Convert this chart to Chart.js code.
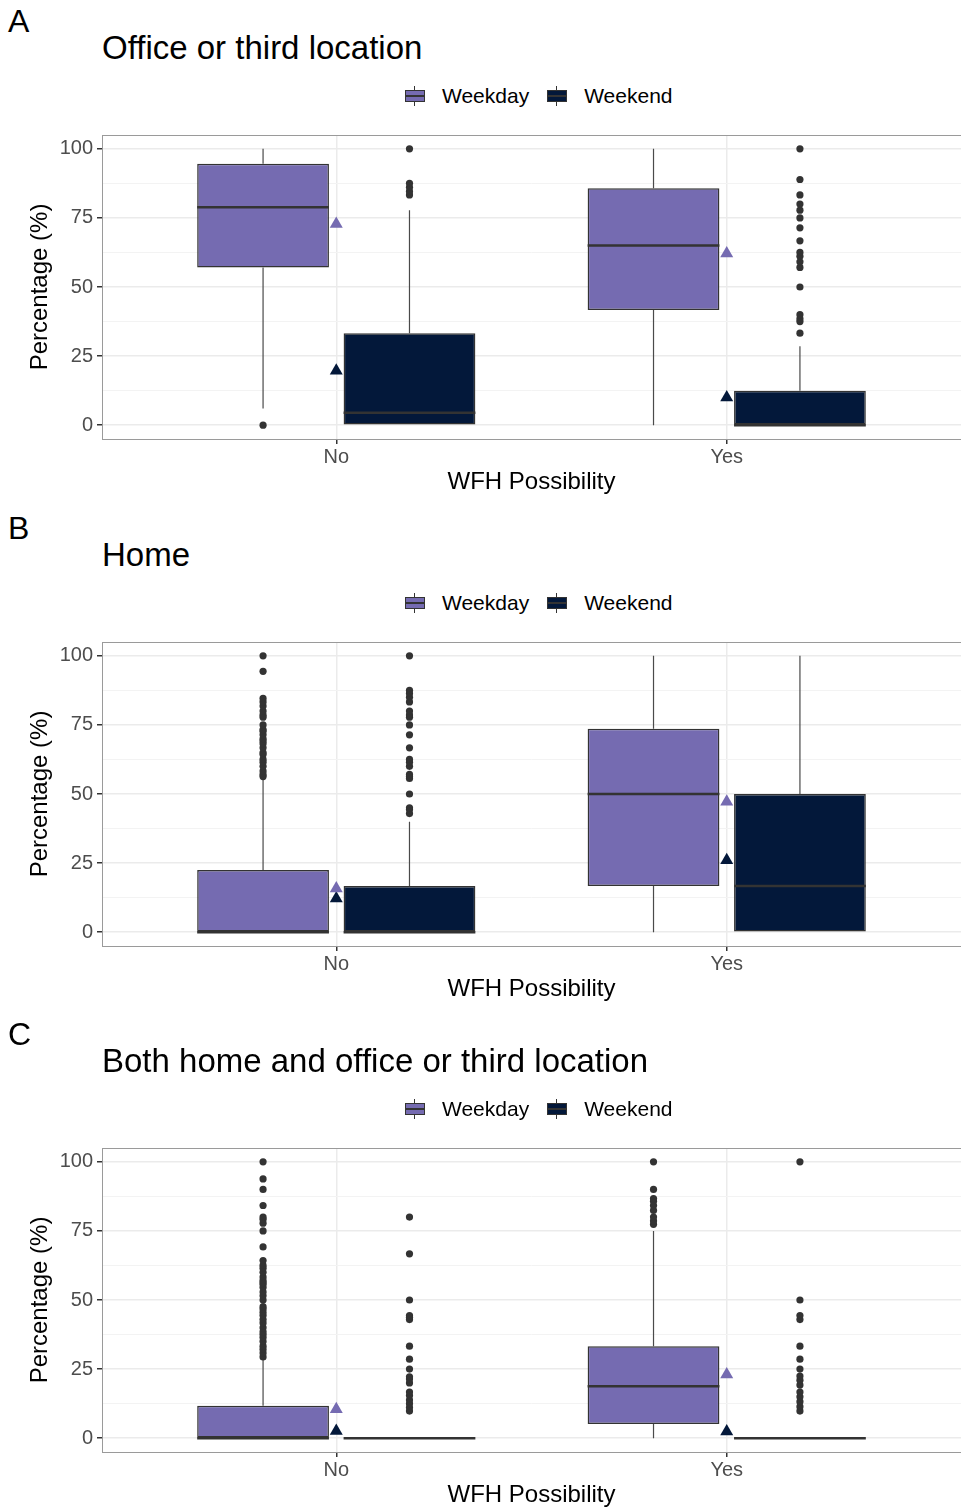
<!DOCTYPE html>
<html>
<head>
<meta charset="utf-8">
<script src="https://cdn.jsdelivr.net/npm/chart.js@4.4.1/dist/chart.umd.min.js"></script>
<style>
  html, body { margin: 0; padding: 0; background: #fff; overflow: hidden; }
  body { width: 961px; height: 1511px; position: relative; font-family: 'Liberation Sans', Arial, sans-serif; color: #000; }
  .panel { position: absolute; left: 0; width: 961px; height: 507px; }
  .tag { position: absolute; left: 8px; top: 5px; font-size: 32px; line-height: 1; }
  .title { position: absolute; left: 102px; top: 31px; font-size: 33px; line-height: 1; white-space: nowrap; }
  .legend { position: absolute; left: 404px; top: 84px; height: 24px; display: flex; align-items: center; font-size: 21px; line-height: 24px; }
  .legend .item { display: flex; align-items: center; margin-right: 17px; }
  .key { position: relative; width: 22px; height: 20px; margin-right: 16px; }
  .key .wh { position: absolute; left: 10px; top: 0; width: 1px; height: 20px; background: #333; }
  .key .box { position: absolute; left: 1px; top: 4px; width: 18px; height: 10px; border: 1px solid #333; }
  .key .mid { position: absolute; left: 2px; width: 18px; top: 9px; height: 2px; background: #333; }
  .plot { position: absolute; left: 0; top: 125px; width: 961px; height: 382px; }
</style>
</head>
<body>
<div class="panel" style="top:0px">
  <div class="tag">A</div>
  <div class="title">Office or third location</div>
  <div class="legend" id="legend-office"></div>
  <div class="plot"><canvas id="chart-office" width="961" height="382"></canvas></div>
</div>
<div class="panel" style="top:507px">
  <div class="tag">B</div>
  <div class="title">Home</div>
  <div class="legend" id="legend-home"></div>
  <div class="plot"><canvas id="chart-home" width="961" height="382"></canvas></div>
</div>
<div class="panel" style="top:1013px">
  <div class="tag">C</div>
  <div class="title">Both home and office or third location</div>
  <div class="legend" id="legend-both"></div>
  <div class="plot"><canvas id="chart-both" width="961" height="382"></canvas></div>
</div>

<script>
// groups on the x axis and the two series
const groups = ['No', 'Yes'];
const seriesNames = ['Weekday', 'Weekend'];
const seriesColors = ['#756bb1', '#03183a'];
const yTicks = [0, 25, 50, 75, 100];

// box stats per group: [lower whisker, q1, median, q3, upper whisker]
// A: office or third location
const officeWeekday = [[6, 57.1, 78.9, 94.6, 100], [0, 41.7, 65, 85.7, 100]];
const officeWeekend = [[0, 0, 4.5, 33.3, 77.8], [0, 0, 0, 12.5, 28.6]];
const officeWeekdayMean = [72.8, 62.1];
const officeWeekendMean = [19.7, 10];
const officeWeekdayOut = [[0], []];
const officeWeekendOut = [
    [83.3, 84.6, 86.1, 87.5, 100],
    [33.3, 37.5, 38.5, 40, 50, 57.1, 59.1, 61.1, 62.5, 66.7, 71.4, 75, 77.8, 80, 83.3, 88.9, 100]
];

// B: home
const homeWeekday = [[0, 0, 0, 22.5, 55.6], [0, 16.7, 50, 73.6, 100]];
const homeWeekend = [[0, 0, 0, 16.7, 40], [0, 0, 16.7, 50, 100]];
const homeWeekdayMean = [15.8, 47.2];
const homeWeekendMean = [12.2, 26];
const homeWeekdayOut = [
    [56.3, 57.1, 58.3, 60, 61.5, 62.5, 64.3, 65, 66.7, 68.2, 69.2, 70, 71.4, 72.7, 73.3, 75, 77.8, 78.6, 80, 81.8, 83.3, 84.6, 94.4, 100],
    []
];
const homeWeekendOut = [
    [42.9, 44.4, 45, 50, 55.6, 56.3, 57.1, 60, 61.5, 62.5, 66.7, 71.4, 75, 77.8, 78.6, 80, 83.3, 85, 86.4, 87.5, 100],
    []
];

// C: both home and office or third location
const bothWeekday = [[0, 0, 0, 11.7, 28.6], [0, 5.1, 18.8, 33.3, 75]];
const bothWeekend = [[0, 0, 0, 0, 0], [0, 0, 0, 0, 0]];
const bothWeekdayMean = [10.5, 23];
const bothWeekendMean = [2.6, 2.4];
const bothWeekdayOut = [
    [29.4, 30.8, 32.1, 33.3, 35, 36.4, 37.5, 38.5, 40, 41.7, 42.9, 44.4, 45.5, 46.7, 47.6, 50, 51.5, 52.9, 54.5,
     55.6, 56.3, 57.1, 58.3, 60, 61.5, 62.5, 64.3, 69.2, 75, 77.8, 79.2, 80, 84.2, 90, 93.8, 100],
    [77.4, 78.6, 80, 82.4, 84.2, 85.7, 86.7, 90, 100]
];
const bothWeekendOut = [
    [9.8, 11.1, 12.5, 13.8, 15.4, 16.7, 20, 21.4, 22.2, 25, 28.6, 33.3, 42.9, 43.8, 44.4, 50, 66.7, 80],
    [9.8, 11.4, 13.2, 15, 16.7, 19.2, 21, 22.5, 25, 28.6, 33.3, 42.9, 44.4, 50, 100]
];

// dodge between the two boxes of one group, box takes 90% of its slot
const dodge = 0.1875;
const boxHalf = dodge * 0.9;
const yMinor = yTicks.slice(1).map((v, i) => (v + yTicks[i]) / 2);
const yGrid = yTicks.concat(yMinor).sort((a, b) => a - b);

const panelBorder = {
    id: 'panelBorder',
    afterDatasetsDraw(chart) {
        const a = chart.chartArea;
        const ctx = chart.ctx;
        ctx.save();
        ctx.strokeStyle = '#9a9a9a';
        ctx.lineWidth = 1;
        ctx.strokeRect(a.left + 0.5, a.top + 0.5, a.right - a.left, a.bottom - a.top);
        ctx.restore();
    }
};

const buildLegend = (id) => {
    const el = document.getElementById(id);
    el.innerHTML = seriesNames.map((name, i) => `
        <div class="item">
            <div class="key"><div class="wh"></div><div class="box" style="background:${seriesColors[i]}"></div><div class="mid"></div></div>
            <span>${name}</span>
        </div>`).join('');
};

const seriesDatasets = (boxes, means, outliers, s) => {
    const shift = s === 0 ? -dodge : dodge;
    const color = seriesColors[s];
    const whiskers = [];
    const medians = [];
    const outPoints = [];
    boxes.forEach((b, i) => {
        const x = i + 1 + shift;
        whiskers.push({ x, y: b[3] }, { x, y: b[4] }, { x, y: null }, { x, y: b[0] }, { x, y: b[1] }, { x, y: null });
        medians.push({ x: x - boxHalf, y: b[2] }, { x: x + boxHalf, y: b[2] }, { x, y: null });
        outliers[i].forEach(v => outPoints.push({ x, y: v }));
    });
    return [
        {
            type: 'line', label: seriesNames[s] + ' whisker', data: whiskers, order: 5,
            borderColor: '#4a4a4a', borderWidth: 1.2, pointRadius: 0, spanGaps: false, fill: false
        },
        {
            type: 'bar', label: seriesNames[s], order: 4, grouped: false,
            data: boxes.map((b, i) => ({ x: i + 1 + shift, y: [b[1], b[3]] })),
            backgroundColor: color, borderColor: '#333333', borderWidth: 1.5, borderSkipped: false,
            categoryPercentage: 1, barPercentage: 0.9
        },
        {
            type: 'line', label: seriesNames[s] + ' median', data: medians, order: 3,
            borderColor: '#333333', borderWidth: 2.5, pointRadius: 0, spanGaps: false, fill: false
        },
        {
            type: 'scatter', label: seriesNames[s] + ' outliers', data: outPoints, order: 2,
            backgroundColor: '#333333', borderWidth: 0, pointRadius: 3.6
        },
        {
            type: 'scatter', label: seriesNames[s] + ' mean', order: 1,
            data: means.map((m, i) => ({ x: i + 1, y: m })),
            pointStyle: 'triangle', backgroundColor: color, borderWidth: 0, pointRadius: 7.5
        }
    ];
};

const buildChart = (canvasId, weekday, weekend, weekdayMean, weekendMean, weekdayOut, weekendOut) => {
    const ctx = document.getElementById(canvasId).getContext('2d');
    return new Chart(ctx, {
        type: 'bar',
        data: {
            datasets: [
                ...seriesDatasets(weekday, weekdayMean, weekdayOut, 0),
                ...seriesDatasets(weekend, weekendMean, weekendOut, 1)
            ]
        },
        options: {
            responsive: false,
            animation: false,
            events: [],
            layout: { autoPadding: false, padding: { top: 10, left: 0, right: 0, bottom: 0 } },
            plugins: { legend: { display: false }, tooltip: { enabled: false } },
            scales: {
                x: {
                    type: 'linear', min: 0.4, max: 2.6, offset: false,
                    afterBuildTicks: (scale) => { scale.ticks = groups.map((g, i) => ({ value: i + 1 })); },
                    afterFit: (scale) => { scale.height = 68; scale.paddingLeft = 0; scale.paddingRight = 0; },
                    ticks: {
                        callback: (value) => groups[value - 1],
                        color: '#4d4d4d', font: { size: 20 }, padding: 1, maxRotation: 0, autoSkip: false
                    },
                    grid: { color: '#ebebeb', lineWidth: 1.5, tickLength: 5, tickColor: '#333333', offset: false },
                    border: { display: false },
                    title: { display: true, text: 'WFH Possibility', color: '#000', font: { size: 24 }, padding: { top: 0, bottom: 10 } }
                },
                y: {
                    type: 'linear', min: -5, max: 105,
                    afterBuildTicks: (scale) => { scale.ticks = yGrid.map(v => ({ value: v })); },
                    afterFit: (scale) => { scale.width = 102; scale.paddingTop = 0; scale.paddingBottom = 0; },
                    ticks: {
                        callback: (value) => yTicks.includes(value) ? String(value) : '',
                        color: '#4d4d4d', font: { size: 20 }, padding: 4, autoSkip: false
                    },
                    grid: {
                        color: (c) => yTicks.includes(c.tick.value) ? '#ebebeb' : '#f3f3f3',
                        lineWidth: (c) => yTicks.includes(c.tick.value) ? 1.5 : 1,
                        tickLength: 5,
                        tickColor: (c) => yTicks.includes(c.tick.value) ? '#333333' : 'rgba(0,0,0,0)'
                    },
                    border: { display: false },
                    title: { display: true, text: 'Percentage (%)', color: '#000', font: { size: 24 }, padding: { top: 26, bottom: 0 } }
                }
            }
        },
        plugins: [panelBorder]
    });
};

buildLegend('legend-office');
buildLegend('legend-home');
buildLegend('legend-both');

buildChart('chart-office', officeWeekday, officeWeekend, officeWeekdayMean, officeWeekendMean, officeWeekdayOut, officeWeekendOut);
buildChart('chart-home', homeWeekday, homeWeekend, homeWeekdayMean, homeWeekendMean, homeWeekdayOut, homeWeekendOut);
buildChart('chart-both', bothWeekday, bothWeekend, bothWeekdayMean, bothWeekendMean, bothWeekdayOut, bothWeekendOut);
</script>
</body>
</html>
